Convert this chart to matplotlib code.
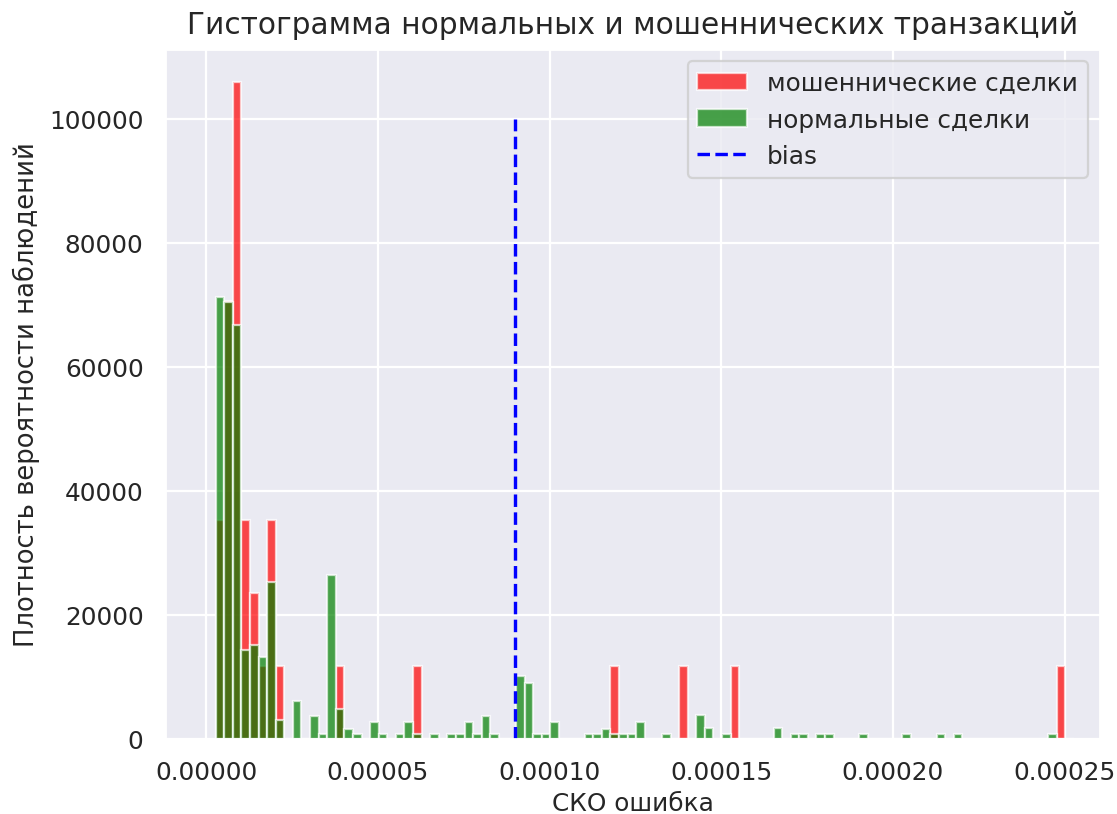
import numpy as np
import matplotlib
matplotlib.use("Agg")
import matplotlib.pyplot as plt
import seaborn as sns

sns.set_theme(style="darkgrid")
plt.rcParams["font.family"] = ["DejaVu Sans"]

# histogram grid (bin width 2.5e-6, 100 bins)
bin_start = 2.75e-6
bin_width = 2.5e-6
n_bins = 100

# fraud transactions: bin index -> density
fraud_bins = [0, 1, 2, 3, 4, 5, 6, 7, 14, 23, 46, 54, 60, 98]
fraud_density = [35300, 70600, 105900, 35300, 23500, 11800, 35300, 11800,
                 11800, 11800, 11800, 11800, 11800, 11800]

# normal transactions: bin index -> density
normal_bins = [0, 1, 2, 3, 4, 5, 6, 7, 9, 11, 12, 13, 14, 15, 16, 18, 19,
               21, 22, 23, 25, 27, 28, 29, 30, 31, 32, 35, 36, 37, 38, 39,
               43, 44, 45, 46, 47, 48, 49, 52, 56, 57, 59, 65, 67, 68, 70,
               71, 75, 80, 84, 86, 97]
normal_density = [71200, 70400, 66700, 14300, 15200, 13200, 25300, 3100,
                  6100, 3700, 850, 26500, 4900, 1650, 850, 2800, 850,
                  850, 2800, 850, 850, 850, 850, 2800, 850, 3700, 850,
                  10200, 9100, 850, 850, 2800,
                  850, 850, 1650, 850, 850, 850, 2800, 850, 3800, 1800, 850,
                  1800, 850, 850, 850, 850, 850, 850, 850, 850, 850]

bias = 0.00009
bias_top = 100000

edges = bin_start + bin_width * np.arange(n_bins + 1)
fraud_x = bin_start + bin_width * (np.array(fraud_bins) + 0.5)
normal_x = bin_start + bin_width * (np.array(normal_bins) + 0.5)

fig = plt.figure(figsize=(6.9, 5.03), dpi=162)
ax = fig.add_axes([0.1476, 0.092, 0.8364, 0.8467])

ax.hist(fraud_x, bins=edges, weights=fraud_density, color="red", alpha=0.7,
        label="мошеннические сделки")
ax.hist(normal_x, bins=edges, weights=normal_density, color="green", alpha=0.7,
        label="нормальные сделки")
ax.vlines(bias, 0, bias_top, colors="blue", linestyles="--", linewidth=1.5,
          label="bias")

ax.set_xlim(-1.2e-5, 2.603e-4)
ax.set_ylim(0, 111200)
ax.set_xticks([0, 0.00005, 0.0001, 0.00015, 0.0002, 0.00025])
ax.set_xticklabels(["0.00000", "0.00005", "0.00010", "0.00015", "0.00020", "0.00025"])

ax.set_title("Гистограмма нормальных и мошеннических транзакций", fontsize=13.2, pad=7)
ax.set_xlabel("СКО ошибка", fontsize=11, labelpad=3)
ax.set_ylabel("Плотность вероятности наблюдений", fontsize=11.5)
ax.legend(loc="upper right")

fig.savefig("out.png", dpi=162)
